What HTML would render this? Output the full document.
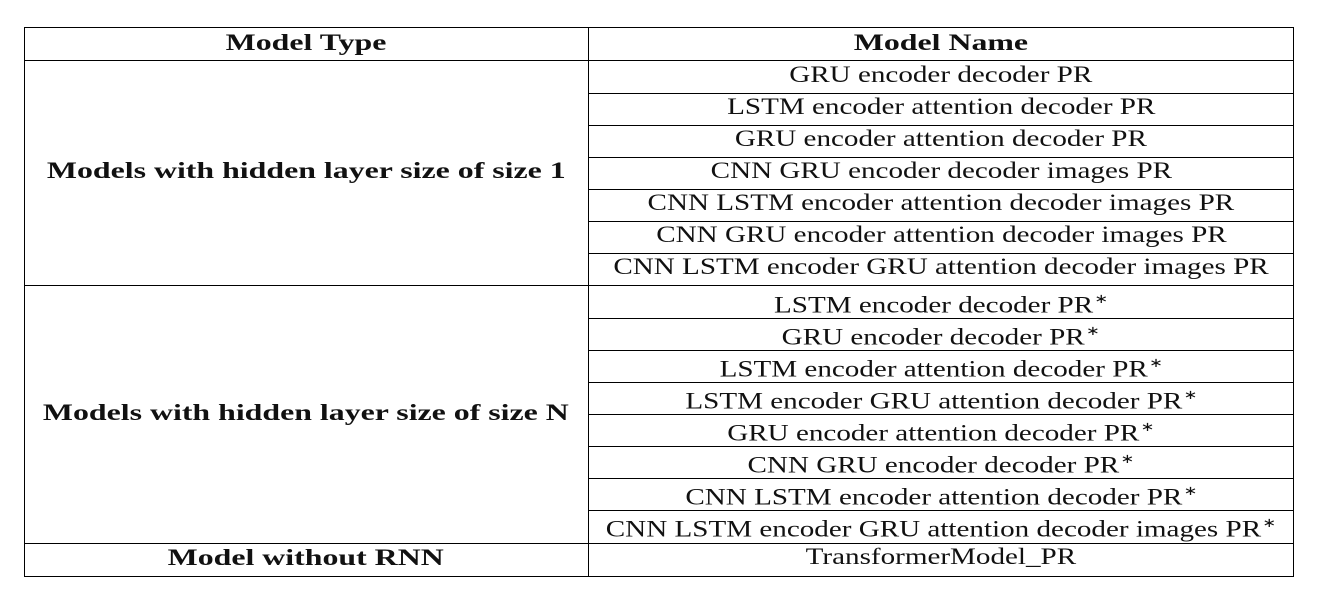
<!DOCTYPE html>
<html><head><meta charset="utf-8">
<style>
html,body{margin:0;padding:0;background:#fff;width:1319px;height:597px;overflow:hidden}
body{font-family:"Liberation Serif",serif;color:#111;position:relative}
.h{position:absolute;left:24px;width:1270px;height:0;border-top:1px solid #000}
.hr{position:absolute;left:588px;width:706px;height:0;border-top:1px solid #000}
.v{position:absolute;top:27px;height:549px;width:0;border-left:1px solid #000}
.c{position:absolute;text-align:center;font-size:23px;line-height:32px;white-space:nowrap;margin-top:1px}
.c span{display:inline-block;transform:scaleX(1.265);transform-origin:center}
.l,.b{font-weight:bold}
.l span,.b span{transform:scaleX(1.385)}
.l{left:24px;width:564px}
.r{left:588px;width:706px}
sup{font-size:13px;position:relative;top:-1px;margin-left:1px}
</style></head><body>
<div>
<div class="h" style="top:27px"></div>
<div class="h" style="top:60px"></div>
<div class="h" style="top:285px"></div>
<div class="h" style="top:543px"></div>
<div class="h" style="top:576px"></div>
<div class="v" style="left:24px"></div>
<div class="v" style="left:588px"></div>
<div class="v" style="left:1293px"></div>
<div class="hr" style="top:93px"></div><div class="hr" style="top:125px"></div><div class="hr" style="top:157px"></div><div class="hr" style="top:189px"></div><div class="hr" style="top:221px"></div><div class="hr" style="top:253px"></div>
<div class="hr" style="top:318px"></div><div class="hr" style="top:350px"></div><div class="hr" style="top:382px"></div><div class="hr" style="top:414px"></div><div class="hr" style="top:446px"></div><div class="hr" style="top:478px"></div><div class="hr" style="top:510px"></div>

<div class="c l" style="top:26px"><span>Model Type</span></div>
<div class="c r b" style="top:26px"><span>Model Name</span></div>
<div class="c l" style="top:154px"><span>Models with hidden layer size of size 1</span></div>
<div class="c l" style="top:396px"><span>Models with hidden layer size of size N</span></div>
<div class="c l" style="top:541px"><span>Model without RNN</span></div>

<div class="c r" style="top:58px"><span>GRU encoder decoder PR</span></div>
<div class="c r" style="top:90px"><span>LSTM encoder attention decoder PR</span></div>
<div class="c r" style="top:122px"><span>GRU encoder attention decoder PR</span></div>
<div class="c r" style="top:154px"><span>CNN GRU encoder decoder images PR</span></div>
<div class="c r" style="top:186px"><span>CNN LSTM encoder attention decoder images PR</span></div>
<div class="c r" style="top:218px"><span>CNN GRU encoder attention decoder images PR</span></div>
<div class="c r" style="top:250px"><span>CNN LSTM encoder GRU attention decoder images PR</span></div>
<div class="c r" style="top:283px"><span>LSTM encoder decoder PR<sup>∗</sup></span></div>
<div class="c r" style="top:315px"><span>GRU encoder decoder PR<sup>∗</sup></span></div>
<div class="c r" style="top:347px"><span>LSTM encoder attention decoder PR<sup>∗</sup></span></div>
<div class="c r" style="top:379px"><span>LSTM encoder GRU attention decoder PR<sup>∗</sup></span></div>
<div class="c r" style="top:411px"><span>GRU encoder attention decoder PR<sup>∗</sup></span></div>
<div class="c r" style="top:443px"><span>CNN GRU encoder decoder PR<sup>∗</sup></span></div>
<div class="c r" style="top:475px"><span>CNN LSTM encoder attention decoder PR<sup>∗</sup></span></div>
<div class="c r" style="top:507px"><span>CNN LSTM encoder GRU attention decoder images PR<sup>∗</sup></span></div>
<div class="c r" style="top:540px"><span>TransformerModel_PR</span></div>
</div>
</body></html>
